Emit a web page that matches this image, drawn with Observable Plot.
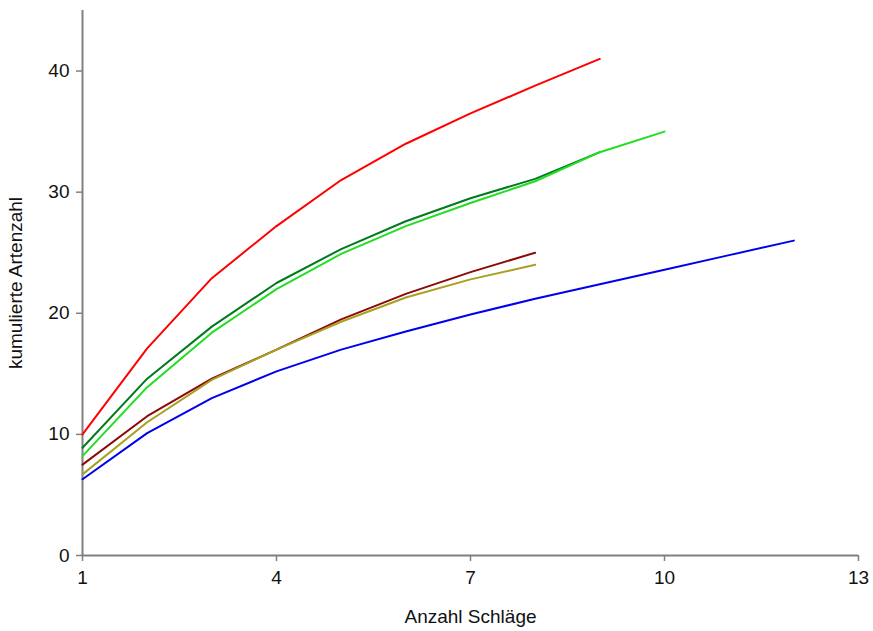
<!DOCTYPE html>
<html>
<head>
<meta charset="utf-8">
<script src="https://cdn.jsdelivr.net/npm/d3@7"></script>
<script src="https://cdn.jsdelivr.net/npm/@observablehq/plot@0.6"></script>
<style>
  html, body { margin: 0; padding: 0; background: #fff; }
  #chart svg { display: block; }
</style>
</head>
<body>
<div id="chart"></div>
<script>
const xTicks = [1, 4, 7, 10, 13];
const yTicks = [0, 10, 20, 30, 40];

const seriesNames = ["rot", "dunkelgrün", "hellgrün", "braun", "oliv", "blau"];
const seriesColors = ["#ff0000", "#007a1e", "#22dd22", "#8b0a0a", "#a8a020", "#0000ee"];

const rot        = [10.0, 17.1, 22.9, 27.2, 31.0, 34.0, 36.5, 38.8, 41.0];
const dunkelgruen = [8.9, 14.6, 18.9, 22.5, 25.3, 27.6, 29.5, 31.1, 33.3];
const hellgruen  = [8.2, 13.9, 18.4, 22.0, 24.9, 27.2, 29.1, 30.9, 33.3, 35.0];
const braun      = [7.5, 11.5, 14.6, 17.0, 19.5, 21.6, 23.4, 25.0];
const oliv       = [6.7, 11.0, 14.5, 17.0, 19.3, 21.3, 22.8, 24.0];
const blau       = [6.3, 10.1, 13.0, 15.2, 17.0, 18.5, 19.9, 21.2, 22.4, 23.6, 24.8, 26.0];

const allSeries = [rot, dunkelgruen, hellgruen, braun, oliv, blau];
const data = allSeries.flatMap((vals, i) =>
  vals.map((v, j) => ({ series: seriesNames[i], x: j + 1, y: v }))
);

const chart = Plot.plot({
  width: 873,
  height: 631,
  marginLeft: 82,
  marginRight: 15,
  marginTop: 10,
  marginBottom: 76,
  style: { fontFamily: "Liberation Sans, Arial, sans-serif", fontSize: "19px", color: "#111", background: "#fff" },
  x: { domain: [1, 13] },
  y: { domain: [0, 45] },
  color: { domain: seriesNames, range: seriesColors },
  marks: [
    Plot.ruleX([1], { stroke: "#808080", strokeWidth: 2 }),
    Plot.ruleY([0], { stroke: "#808080", strokeWidth: 2 }),
    Plot.axisX({
      ticks: xTicks, tickSize: 6, tickPadding: 9, stroke: "#808080", strokeWidth: 1.5,
      fontSize: 19, fill: "#111",
      label: "Anzahl Schläge", labelAnchor: "center", labelArrow: "none", labelOffset: 67
    }),
    Plot.axisY({
      ticks: yTicks, tickSize: 6, tickPadding: 7, stroke: "#808080", strokeWidth: 1.5,
      fontSize: 19, fill: "#111",
      label: "kumulierte Artenzahl", labelAnchor: "center", labelArrow: "none", labelOffset: 74
    }),
    Plot.line(data, { x: "x", y: "y", z: "series", stroke: "series", strokeWidth: 2, curve: "linear" })
  ]
});
document.getElementById("chart").appendChild(chart);
</script>
</body>
</html>
